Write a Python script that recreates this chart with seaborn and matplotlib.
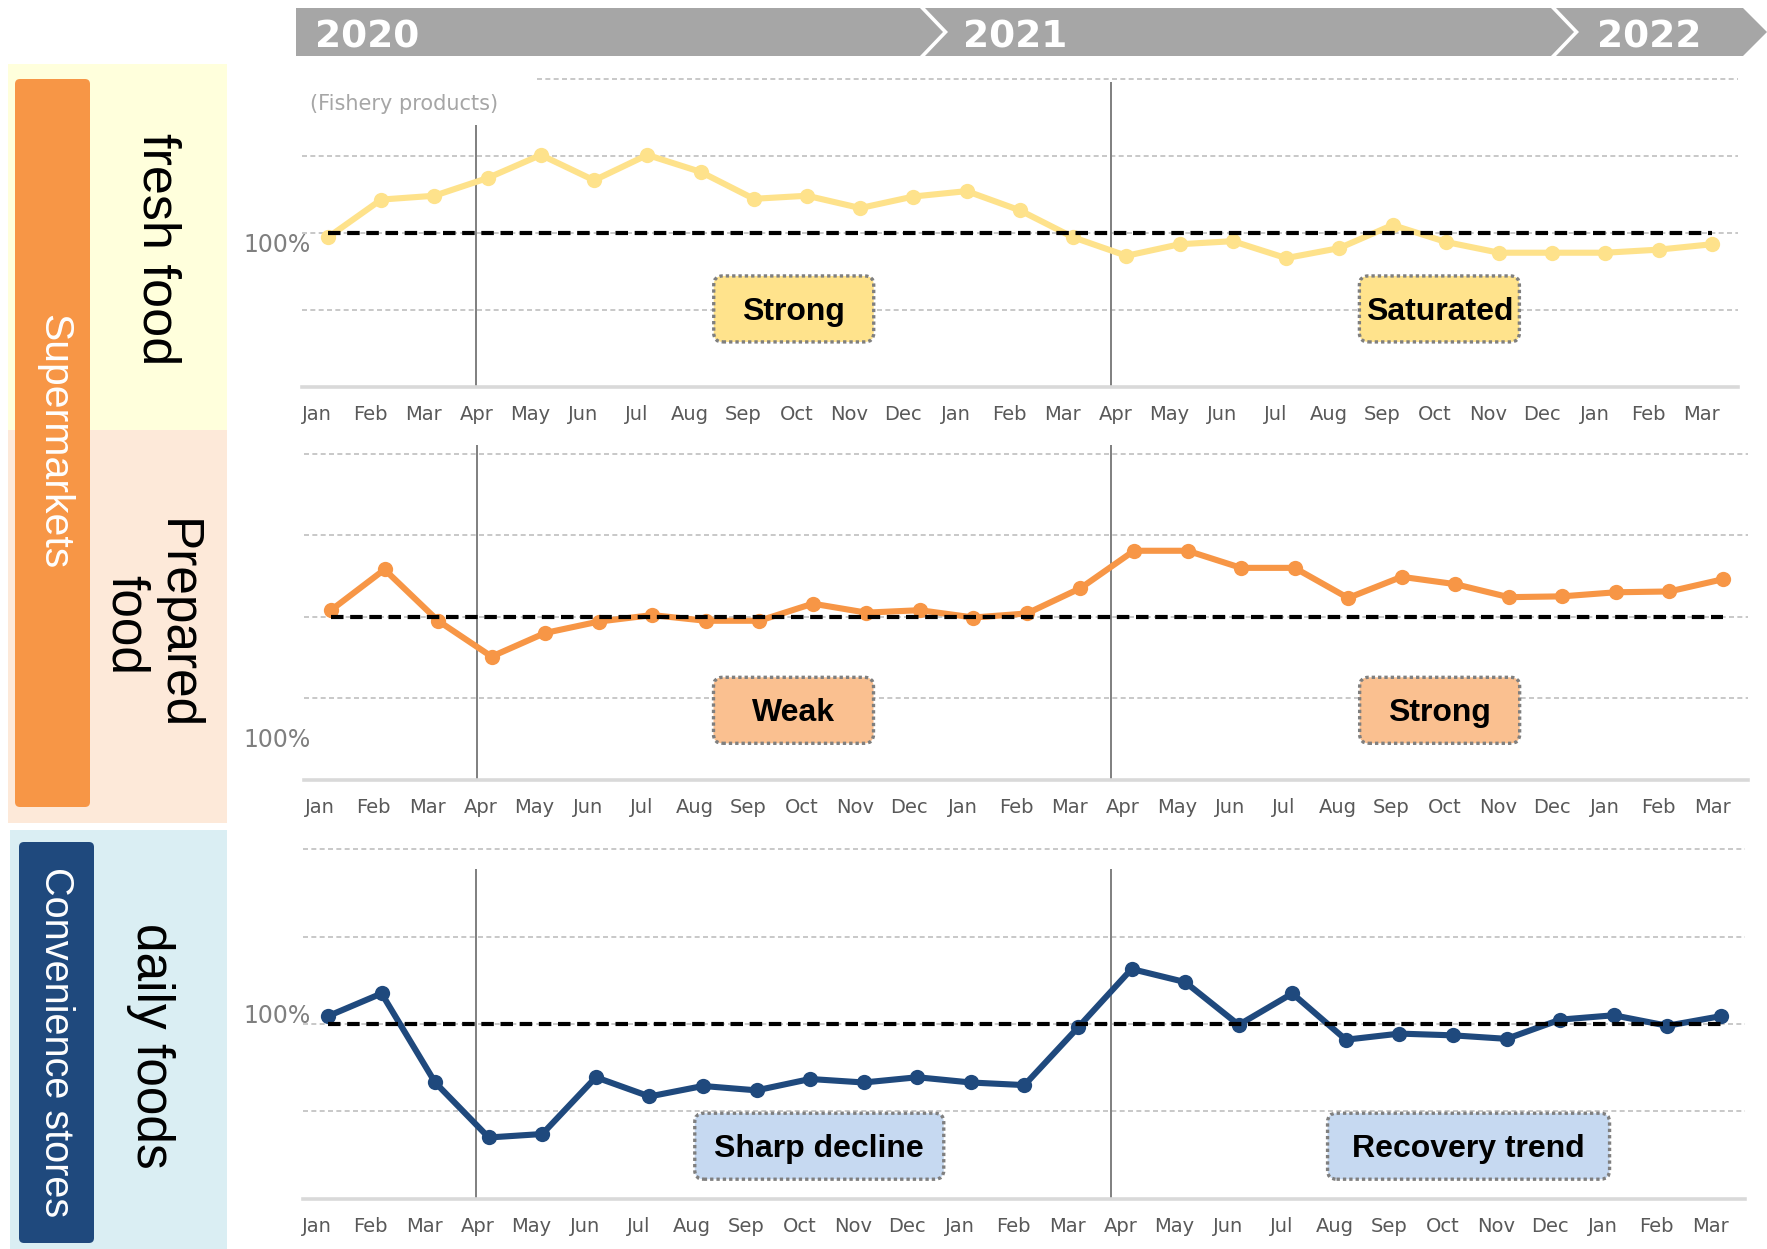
import numpy as np
import pandas as pd
import matplotlib
matplotlib.use("Agg")
import matplotlib.pyplot as plt
from matplotlib.patches import FancyBboxPatch, Polygon, Rectangle
from matplotlib.transforms import IdentityTransform
import seaborn as sns

# ---- data -------------------------------------------------------------
months = ["Jan", "Feb", "Mar", "Apr", "May", "Jun", "Jul", "Aug", "Sep", "Oct", "Nov", "Dec",
          "Jan", "Feb", "Mar", "Apr", "May", "Jun", "Jul", "Aug", "Sep", "Oct", "Nov", "Dec",
          "Jan", "Feb", "Mar"]
years = ["2020", "2021", "2022"]

# year-on-year ratio (%), Jan 2020 .. Mar 2022
fresh_food = [99.4, 104.3, 104.8, 107.1, 110.1, 106.8, 110.1, 107.9, 104.4, 104.8, 103.2, 104.7,
              105.4, 102.9, 99.4, 97.0, 98.5, 98.9, 96.7, 98.0, 101.0, 98.8, 97.4, 97.4,
              97.4, 97.8, 98.5]
prepared_food = [100.8, 105.8, 99.5, 95.1, 98.0, 99.4, 100.2, 99.5, 99.5, 101.6, 100.5, 100.8,
                 99.9, 100.4, 103.5, 108.1, 108.1, 106.0, 106.0, 102.3, 104.9, 104.0, 102.4, 102.5,
                 103.0, 103.1, 104.6]
daily_foods = [100.9, 103.5, 93.3, 87.0, 87.4, 93.9, 91.7, 92.9, 92.4, 93.7, 93.3, 93.9,
               93.3, 93.0, 99.6, 106.3, 104.8, 99.9, 103.5, 98.2, 98.9, 98.7, 98.3, 100.5,
               101.0, 99.8, 100.9]

fresh_labels = ["Strong", "Saturated"]
prepared_labels = ["Weak", "Strong"]
daily_labels = ["Sharp decline", "Recovery trend"]

# ---- figure -------------------------------------------------------------
sns.set_style("white")
plt.rcParams["font.family"] = ["DejaVu Sans"]

W, H = 1767, 1249
fig = plt.figure(figsize=(W / 100, H / 100), dpi=100)
fig.patch.set_facecolor("white")
ID = IdentityTransform()


def fx(x):
    return x / W


def fy(y):
    return 1 - y / H


def rect(x0, y0, x1, y1, color, rounding=0, z=0):
    if rounding:
        p = FancyBboxPatch((x0, H - y1), x1 - x0, y1 - y0,
                           boxstyle=f"round,pad=0,rounding_size={rounding}",
                           fc=color, ec="none", transform=ID, zorder=z)
    else:
        p = Rectangle((x0, H - y1), x1 - x0, y1 - y0, fc=color, ec="none",
                      transform=ID, zorder=z)
    fig.add_artist(p)


# year banner made of chevron segments
banner = "#a6a6a6"
segments = [
    [(296, 8), (920, 8), (943, 32), (920, 56), (296, 56)],
    [(925, 8), (1551, 8), (1574, 32), (1551, 56), (925, 56), (948, 32)],
    [(1556, 8), (1743, 8), (1767, 32), (1743, 56), (1556, 56), (1579, 32)],
]
for seg in segments:
    fig.add_artist(Polygon([(x, H - y) for x, y in seg], closed=True, fc=banner,
                           ec="none", transform=ID))
for yr, x in zip(years, [315, 963, 1597]):
    fig.text(fx(x), fy(47), yr, color="white", fontsize=27, fontweight="bold",
             ha="left", va="baseline")

# left-hand category blocks
rect(8, 64, 227, 430, "#ffffdc")
rect(8, 430, 227, 823, "#fde9d9")
rect(10, 830, 227, 1249, "#daeef3")
rect(15, 79, 90, 807, "#f79646", rounding=5, z=1)
rect(19, 842, 94, 1243, "#1f497d", rounding=5, z=1)

side = dict(family="Liberation Sans", rotation=-90, ha="center", va="center")
fig.text(fx(54), fy(442), "Supermarkets", color="white", fontsize=29.5, **side)
fig.text(fx(56), fy(1042), "Convenience stores", color="white", fontsize=28.5, **side)
fig.text(fx(157), fy(249), "fresh food", color="black", fontsize=37.5, **side)
fig.text(fx(151), fy(625), "Prepared\nfood", color="black", fontsize=37,
         multialignment="center", linespacing=1.05, **side)
fig.text(fx(150), fy(1046), "daily foods", color="black", fontsize=37, **side)

# ---- line panels -----------------------------------------------------------
panels = [
    dict(values=fresh_food, color="#fee28b", box_fc="#ffe38c", labels=fresh_labels,
         px=(302, 78.7, 1738, 386.7), xlim=(-0.488, 26.49),
         vl=[(2.79, 114.0), (14.72, 119.6)], box_pos=[(8.75, 90.1), (20.88, 90.1)],
         box_w=[160, 160], top_grid_start=3.93, pct_y=245),
    dict(values=prepared_food, color="#f79646", box_fc="#fac090", labels=prepared_labels,
         px=(304, 453.9, 1748, 779.5), xlim=(-0.504, 26.47),
         vl=[(2.72, 121.1), (14.57, 121.1)], box_pos=[(8.64, 88.5), (20.71, 88.5)],
         box_w=[160, 160], top_grid_start=None, pct_y=740),
    dict(values=daily_foods, color="#1f497d", box_fc="#c6d9f1", labels=daily_labels,
         px=(302.5, 849.4, 1745, 1198.6), xlim=(-0.476, 26.45),
         vl=[(2.77, 117.8), (14.62, 117.8)], box_pos=[(9.17, 86.0), (21.29, 86.0)],
         box_w=[249, 282], top_grid_start=None, pct_y=1016),
]

idx = np.arange(len(months))
for p in panels:
    l, t, r, b = p["px"]
    ax = fig.add_axes([fx(l), fy(b), (r - l) / W, (b - t) / H])
    ax.set_facecolor("none")
    ax.set_xlim(*p["xlim"])
    ax.set_ylim(80, 120)

    # dashed reference grid
    for lvl in [90, 100, 110, 120]:
        start = p["top_grid_start"] if (lvl == 120 and p["top_grid_start"]) else p["xlim"][0]
        ax.hlines(lvl, start, p["xlim"][1], color="#bfbfbf", lw=1.2,
                  linestyles=(0, (3, 2)), clip_on=False, zorder=1)

    # fiscal-year separators
    for xv, ytop in p["vl"]:
        ax.vlines(xv, 80, ytop, color="#7f7f7f", lw=1.4, clip_on=False, zorder=1)

    df = pd.DataFrame({"month": idx, "ratio": p["values"]})
    sns.lineplot(data=df, x="month", y="ratio", ax=ax, color=p["color"], lw=4.4,
                 marker="o", markersize=11, markeredgewidth=0, zorder=3)

    # 100% reference
    ax.hlines(100, idx[0], idx[-1], color="black", lw=3, linestyles=(0, (3, 1.6)), zorder=4)

    for s in ["top", "left", "right"]:
        ax.spines[s].set_visible(False)
    ax.spines["bottom"].set_color("#d9d9d9")
    ax.spines["bottom"].set_linewidth(2.6)
    ax.set_yticks([])
    ax.set_xticks(idx - 0.2, months)
    ax.tick_params(axis="x", length=0, pad=13.5, labelsize=14, labelcolor="#595959")
    ax.set_xlabel("")
    ax.set_ylabel("")

    fig.text(fx(311), fy(p["pct_y"]), "100%", color="#7f7f7f", fontsize=17,
             ha="right", va="center")

    # status call-outs
    for (bx, by), w, txt in zip(p["box_pos"], p["box_w"], p["labels"]):
        cx, cy = ax.transData.transform((bx, by))
        h = 66
        patch = FancyBboxPatch((cx - w / 2, cy - h / 2), w, h,
                               boxstyle="round,pad=0,rounding_size=9",
                               fc=p["box_fc"], ec="#7f7f7f", lw=2.4,
                               ls=(0, (1, 0.9)), transform=ID, zorder=5)
        fig.add_artist(patch)
        fig.text(cx / W, (cy - 3) / H, txt, family="Liberation Sans", fontweight="bold",
                 fontsize=23, color="black", ha="center", va="center", zorder=6)

fig.text(fx(310), fy(104), "(Fishery products)", color="#a6a6a6", fontsize=15,
         ha="left", va="center")

fig.savefig("out.png", dpi=100)
